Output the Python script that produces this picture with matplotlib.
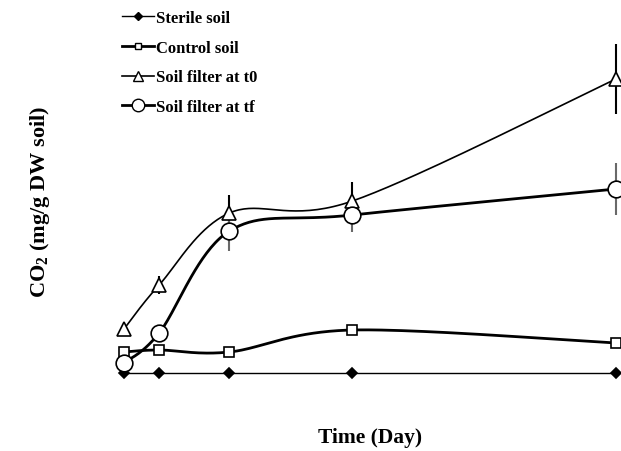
import numpy as np
import matplotlib.pyplot as plt
from matplotlib.lines import Line2D

plt.rcParams['font.family'] = ['Liberation Serif', 'DejaVu Serif']
plt.rcParams['mathtext.fontset'] = 'custom'
plt.rcParams['mathtext.rm'] = 'Liberation Serif:bold'
plt.rcParams['mathtext.bf'] = 'Liberation Serif:bold'

# data (arbitrary CO2 units)
days = [0, 1, 3, 6.5, 14]
sterile = [0, 0, 0, 0, 0]
control = [2.1, 2.3, 2.1, 4.3, 3.0]
control_err = [0.1, 0.1, 0.1, 0.5, 0.1]
filter_t0 = [4.4, 8.8, 16.0, 17.2, 29.4]
filter_t0_err = [0.3, 0.9, 1.8, 1.9, 3.5]
filter_tf = [1.0, 4.0, 14.2, 15.8, 18.4]
filter_tf_err = [0.3, 0.5, 2.0, 1.7, 2.6]
labels = ["Sterile soil", "Control soil", "Soil filter at t0", "Soil filter at tf"]


def smooth(x, y, n=40):
    # Excel-like smoothed line (Catmull-Rom through bezier segments)
    p = np.column_stack([x, y]).astype(float)
    p = np.vstack([p[0], p, p[-1]])
    out = []
    t = np.linspace(0, 1, n)[:, None]
    for i in range(1, len(p) - 2):
        p0, p3 = p[i], p[i + 1]
        c1 = p0 + (p[i + 1] - p[i - 1]) / 6
        c2 = p3 - (p[i + 2] - p[i]) / 6
        seg = (1 - t) ** 3 * p0 + 3 * (1 - t) ** 2 * t * c1 + 3 * (1 - t) * t ** 2 * c2 + t ** 3 * p3
        out.append(seg)
    out = np.vstack(out)
    return out[:, 0], out[:, 1]


fig = plt.figure(figsize=(6.21, 4.52), dpi=100)
ax = fig.add_axes([124 / 621, 78 / 452, 492 / 621, 344 / 452])
ax.set_xlim(0, 14)
ax.set_ylim(0, 34.4)
ax.axis('off')

series = [
    (sterile, None, 'D', 5, 1.0, 'black', 'black'),
    (control, control_err, 's', 6.5, 2.0, 'white', 'black'),
    (filter_t0, filter_t0_err, '^', 10, 1.2, 'white', 'black'),
    (filter_tf, filter_tf_err, 'o', 12, 2.0, 'white', 'dimgray'),
]

handles = []
for (vals, err, mk, ms, lw, fc, ecol), lab in zip(series, labels):
    sx, sy = smooth(days, vals)
    ax.plot(sx, sy, color='black', lw=lw, zorder=2, clip_on=False)
    if err is not None:
        ax.errorbar(days, vals, yerr=err, fmt='none', ecolor=ecol, elinewidth=1.5,
                    capsize=0, zorder=3, clip_on=False)
    ax.plot(days, vals, ls='none', marker=mk, ms=ms, mfc=fc, mec='black',
            mew=1.2, zorder=4, clip_on=False)
    handles.append(Line2D([], [], color='black', lw=lw, marker=mk, ms=ms * 0.75,
                          mfc=fc, mec='black', mew=1.0))

fig.legend(handles, labels, loc='upper left', bbox_to_anchor=(122 / 621, 1 - 11 / 452),
           frameon=False, prop={'weight': 'bold', 'size': 12}, handlelength=1.9,
           handletextpad=0.15, labelspacing=0.82, borderaxespad=0, borderpad=0)

fig.text(40 / 621, 1 - 202 / 452, r'CO$_2$ (mg/g DW soil)', rotation=90, ha='center',
         va='center', fontsize=16, fontweight='bold')
fig.text(370 / 621, 1 - 438 / 452, 'Time (Day)', ha='center', va='center',
         fontsize=15.5, fontweight='bold')

fig.savefig('out.png', dpi=100)
